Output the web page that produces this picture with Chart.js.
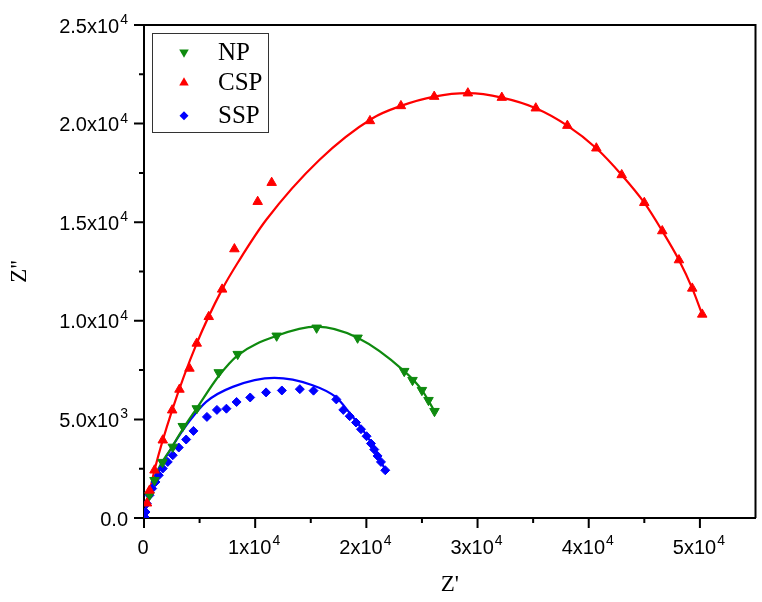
<!DOCTYPE html>
<html><head><meta charset="utf-8">
<script src="https://cdn.jsdelivr.net/npm/chart.js@4/dist/chart.umd.min.js"></script>
<style>html,body{margin:0;padding:0;background:#fff}#wrap{width:762px;height:602px;position:relative}</style>
</head><body><div id="wrap"><canvas id="c" width="762" height="602"></canvas></div>
<script>
// ---- data ----
const seriesNames = ['NP', 'CSP', 'SSP'];
const npX = [494, 943, 1662, 2588, 3486, 4744, 6721, 8428, 11932, 15526, 19210, 23406, 24152, 24996, 25589, 26128];
const npY = [1158, 1915, 2832, 3604, 4655, 5553, 7381, 8309, 9238, 9644, 9137, 7446, 6990, 6482, 5974, 5416];
const npFitX = [0, 400, 1240, 2400, 3549, 4744, 6721, 8428, 11932, 15526, 19210, 23406, 24996, 26128];
const npFitY = [0, 1150, 2425, 3500, 4560, 5560, 7200, 8250, 9238, 9700, 9137, 7446, 6482, 5416];

const cspX = [270, 500, 943, 1689, 2534, 3190, 4088, 4744, 5822, 7026, 8131, 10225, 11483, 20324, 23109, 26101, 29129, 32184, 35239, 38078, 40684, 42966, 44997, 46614, 48115, 49310, 50208];
const cspY = [750, 1400, 2421, 3944, 5467, 6518, 7584, 8853, 10203, 11594, 13639, 16040, 17005, 20136, 20898, 21370, 21543, 21319, 20781, 19898, 18751, 17396, 15989, 14553, 13081, 11644, 10325];
const cspFitX = [0, 943, 2534, 4744, 7026, 8581, 10980, 15768, 20558, 23109, 26101, 29129, 32184, 35239, 38078, 40684, 42966, 44997, 46614, 48115, 49310, 50208];
const cspFitY = [0, 2421, 5467, 8853, 11594, 13081, 15111, 18157, 20274, 20898, 21370, 21543, 21319, 20781, 19898, 18751, 17396, 15989, 14553, 13081, 11644, 10325];

const sspX = [45, 135, 252, 494, 737, 1033, 1330, 1689, 2138, 2588, 3127, 3792, 4448, 5660, 6559, 7413, 8329, 9551, 10980, 12399, 14017, 15248, 17296, 17925, 18500, 19066, 19516, 20019, 20414, 20711, 21007, 21313, 21699];
const sspY = [51, 305, 731, 1152, 1492, 1827, 2167, 2508, 2843, 3183, 3573, 3980, 4416, 5127, 5482, 5543, 5883, 6112, 6370, 6467, 6533, 6457, 6015, 5482, 5162, 4843, 4502, 4147, 3777, 3472, 3147, 2843, 2421];
const sspFitX = [0, 225, 494, 943, 1572, 2561, 4088, 5589, 7979, 11725, 15166, 17269, 18464, 19812, 20980, 21699];
const sspFitY = [0, 645, 1188, 1914, 2675, 3640, 4910, 5888, 6650, 7106, 6736, 6127, 5350, 4350, 3284, 2421];

const xTickValues = [0, 10000, 20000, 30000, 40000, 50000];
const xTickLabels = ['0', '1x10^4', '2x10^4', '3x10^4', '4x10^4', '5x10^4'];
const yTickValues = [0, 5000, 10000, 15000, 20000, 25000];
const yTickLabels = ['0.0', '5.0x10^3', '1.0x10^4', '1.5x10^4', '2.0x10^4', '2.5x10^4'];
const xTitle = "Z'";
const yTitle = "Z''";

// ---- styles ----
const GREEN = '#0f8a0f', RED = '#ff0000', BLUE = '#0000ff';
const pts = (xs, ys) => xs.map((x, i) => ({x: x, y: ys[i]}));

function markerDs(label, xs, ys, color, style, rot, r) {
  return {label, data: pts(xs, ys), showLine: false, pointStyle: style, pointRotation: rot,
    pointRadius: r, pointHoverRadius: r, backgroundColor: color, borderColor: color, borderWidth: 1};
}
function fitDs(xs, ys, color) {
  return {label: '', data: pts(xs, ys), showLine: true, pointRadius: 0, pointHoverRadius: 0,
    borderColor: color, backgroundColor: color, borderWidth: 2.2, cubicInterpolationMode: 'monotone', fill: false};
}

function drawShape(ctx, style, x, y, r, rotDeg, color) {
  ctx.save();
  ctx.translate(x, y);
  ctx.rotate(rotDeg * Math.PI / 180);
  ctx.fillStyle = color;
  ctx.beginPath();
  if (style === 'triangle') {
    for (let k = 0; k < 3; k++) {
      const a = k * 2 * Math.PI / 3;
      const px = Math.sin(a) * r, py = -Math.cos(a) * r;
      k ? ctx.lineTo(px, py) : ctx.moveTo(px, py);
    }
  } else {
    ctx.moveTo(0, -r); ctx.lineTo(r, 0); ctx.lineTo(0, r); ctx.lineTo(-r, 0);
  }
  ctx.closePath();
  ctx.fill();
  ctx.restore();
}

function drawSupLabel(ctx, label, x, baseline, align, mainSize, supSize, supRaise) {
  const parts = label.split('^');
  ctx.font = mainSize + 'px "Liberation Sans", Arial, sans-serif';
  const w1 = ctx.measureText(parts[0]).width;
  let w2 = 0;
  if (parts[1]) { ctx.font = supSize + 'px "Liberation Sans", Arial, sans-serif'; w2 = ctx.measureText(parts[1]).width + 1; }
  const total = w1 + w2;
  let sx = align === 'right' ? x - total : x - total / 2;
  ctx.textAlign = 'left';
  ctx.textBaseline = 'alphabetic';
  ctx.fillStyle = '#000';
  ctx.font = mainSize + 'px "Liberation Sans", Arial, sans-serif';
  ctx.fillText(parts[0], sx, baseline);
  if (parts[1]) {
    ctx.font = supSize + 'px "Liberation Sans", Arial, sans-serif';
    ctx.fillText(parts[1], sx + w1 + 1, baseline - supRaise);
  }
}

const frame = {
  id: 'frame',
  afterDraw(chart) {
    const ctx = chart.ctx, a = chart.chartArea;
    const xs = chart.scales.x, ys = chart.scales.y;
    ctx.save();
    ctx.strokeStyle = '#000';
    ctx.lineWidth = 2;
    ctx.beginPath();
    ctx.moveTo(a.left, a.top); ctx.lineTo(a.right, a.top); ctx.lineTo(a.right, a.bottom);
    ctx.stroke();
    ctx.beginPath();
    xTickValues.forEach((v, i) => {
      const px = xs.getPixelForValue(v);
      ctx.moveTo(px, a.bottom); ctx.lineTo(px, a.bottom + 10);
      if (i < xTickValues.length - 1) {
        const mx = xs.getPixelForValue((v + xTickValues[i + 1]) / 2);
        ctx.moveTo(mx, a.bottom); ctx.lineTo(mx, a.bottom + 5);
      }
    });
    yTickValues.forEach((v, i) => {
      const py = ys.getPixelForValue(v);
      ctx.moveTo(a.left, py); ctx.lineTo(a.left - 10, py);
      if (i < yTickValues.length - 1) {
        const my = ys.getPixelForValue((v + yTickValues[i + 1]) / 2);
        ctx.moveTo(a.left, my); ctx.lineTo(a.left - 5, my);
      }
    });
    ctx.stroke();
    xTickValues.forEach((v, i) => {
      drawSupLabel(ctx, xTickLabels[i], xs.getPixelForValue(v) - 1, a.bottom + 36, 'center', 20, 14, 9);
    });
    yTickValues.forEach((v, i) => {
      drawSupLabel(ctx, yTickLabels[i], a.left - 16, ys.getPixelForValue(v) + 7.5, 'right', 20, 14, 8.6);
    });
    ctx.lineWidth = 1;
    ctx.strokeStyle = '#333';
    ctx.strokeRect(152.5, 33.5, 116, 99);
    const rows = [52.3, 82.7, 115.7];
    const cols = [GREEN, RED, BLUE];
    const styles = [['triangle', 180], ['triangle', 0], ['diamond', 0]];
    rows.forEach((ry, i) => {
      drawShape(ctx, styles[i][0], 184, ry, styles[i][0] === 'diamond' ? 4.5 : 5.5, styles[i][1], cols[i]);
      ctx.fillStyle = '#000';
      ctx.font = '25px "Liberation Serif", "Times New Roman", serif';
      ctx.textAlign = 'left';
      ctx.textBaseline = 'middle';
      ctx.fillText(seriesNames[i], 218, ry + 1);
    });
    ctx.restore();
  }
};

new Chart(document.getElementById('c'), {
  type: 'scatter',
  data: {
    datasets: [
      markerDs(seriesNames[1], cspX, cspY, RED, 'triangle', 0, 5.5),
      markerDs(seriesNames[0], npX, npY, GREEN, 'triangle', 180, 5.5),
      markerDs(seriesNames[2], sspX, sspY, BLUE, 'rectRot', 0, 4.5),
      fitDs(cspFitX, cspFitY, RED),
      fitDs(npFitX, npFitY, GREEN),
      fitDs(sspFitX, sspFitY, BLUE)
    ]
  },
  options: {
    responsive: false,
    animation: false,
    devicePixelRatio: 1,
    layout: {padding: {top: 25, right: 5, left: 0, bottom: 0}},
    plugins: {legend: {display: false}, tooltip: {enabled: false}},
    scales: {
      x: {
        type: 'linear', position: 'bottom', min: 0, max: 55000,
        grid: {display: false},
        border: {display: true, color: '#000', width: 2},
        ticks: {display: false},
        afterBuildTicks: s => { s.ticks = xTickValues.map(v => ({value: v})); },
        afterFit: s => { s.height = 84; },
        title: {display: true, text: xTitle, color: '#000',
          font: {family: '"Liberation Serif", "Times New Roman", serif', size: 23},
          padding: {top: 0, bottom: 3}}
      },
      y: {
        type: 'linear', position: 'left', min: 0, max: 25000,
        grid: {display: false},
        border: {display: true, color: '#000', width: 2},
        ticks: {display: false},
        afterBuildTicks: s => { s.ticks = yTickValues.map(v => ({value: v})); },
        afterFit: s => { s.width = 144; },
        title: {display: true, text: yTitle, color: '#000',
          font: {family: '"Liberation Serif", "Times New Roman", serif', size: 23},
          padding: {top: 6, bottom: 0}}
      }
    }
  },
  plugins: [frame]
});
</script>
</body></html>
